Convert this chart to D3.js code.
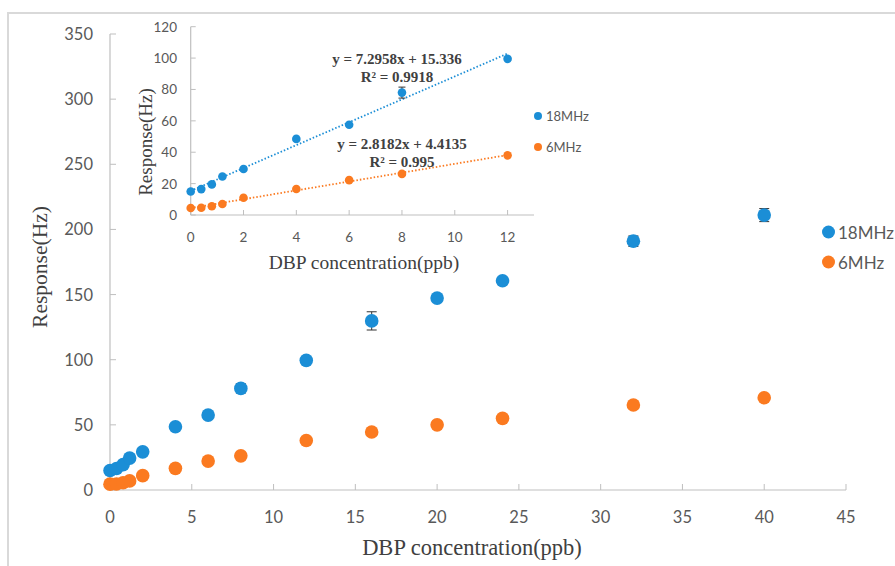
<!DOCTYPE html>
<html><head><meta charset="utf-8">
<script src="https://cdn.jsdelivr.net/npm/d3@7"></script>
<style>body{margin:0;background:#fff}svg{display:block}</style>
</head><body>
<svg id="c" width="895" height="566"></svg>
<script>
// ---- data ----
const conc = [0, 0.4, 0.8, 1.2, 2, 4, 6, 8, 12, 16, 20, 24, 32, 40];
const resp18 = [15, 16.5, 19.5, 24.5, 29.3, 48.5, 57.5, 78, 99.5, 129.8, 147.3, 160.6, 191, 211];
const err18 = [0.5, 0.5, 0.5, 0.5, 0.5, 0.5, 0.5, 3.5, 1, 7, 1, 2.5, 4, 5];
const resp6 = [4.5, 4.6, 5.6, 7, 11, 16.6, 22.2, 26.2, 38, 44.5, 50, 55, 65.2, 70.8];
const insetConc = [0, 0.4, 0.8, 1.2, 2, 4, 6, 8, 12];
const mainXTicks = [0, 5, 10, 15, 20, 25, 30, 35, 40, 45];
const mainYTicks = [0, 50, 100, 150, 200, 250, 300, 350];
const insetXTicks = [0, 2, 4, 6, 8, 10, 12];
const insetYTicks = [0, 20, 40, 60, 80, 100, 120];
const fit18 = {slope: 7.2958, intercept: 15.336, eq: "y = 7.2958x + 15.336", r2: "R² = 0.9918"};
const fit6 = {slope: 2.8182, intercept: 4.4135, eq: "y = 2.8182x + 4.4135", r2: "R² = 0.995"};
const seriesNames = ["18MHz", "6MHz"];
const colors = ["#1b8ed6", "#fb7a20"];

const svg = d3.select("#c");
const sans = "Lato, 'Open Sans', sans-serif";
const serif = "'Liberation Serif', 'DejaVu Serif', serif";
const axisCol = "#bfbfbf", textCol = "#595959";

// frame
svg.append("path").attr("d", "M8,566 V13 H895").attr("fill", "none")
  .attr("stroke", "#d9d9d9").attr("stroke-width", 2);

function drawPanel(opts) {
  const {x, y, xTicks, yTicks, fs, tickLen, xLabY, yLabX} = opts;
  const g = svg.append("g");
  const [x0, x1] = x.range(), [y0, y1] = y.range();
  g.append("line").attr("x1", x0).attr("x2", x1).attr("y1", y0).attr("y2", y0).attr("stroke", axisCol).attr("stroke-width", 1.2);
  g.append("line").attr("x1", x0).attr("x2", x0).attr("y1", y0).attr("y2", y1).attr("stroke", axisCol).attr("stroke-width", 1.2);
  xTicks.forEach(t => {
    g.append("line").attr("x1", x(t)).attr("x2", x(t)).attr("y1", y0).attr("y2", y0 - tickLen).attr("stroke", axisCol);
    g.append("text").attr("x", x(t)).attr("y", xLabY).attr("text-anchor", "middle").attr("dominant-baseline", "central")
      .attr("font-family", sans).attr("font-size", fs).attr("fill", textCol).text(t);
  });
  yTicks.forEach(t => {
    g.append("line").attr("x1", x0).attr("x2", x0 + tickLen).attr("y1", y(t)).attr("y2", y(t)).attr("stroke", axisCol);
    g.append("text").attr("x", yLabX).attr("y", y(t)).attr("text-anchor", "end").attr("dominant-baseline", "central")
      .attr("font-family", sans).attr("font-size", fs).attr("fill", textCol).text(t);
  });
  return g;
}

// ---- main chart ----
const x = d3.scaleLinear().domain([0, 45]).range([110, 846]);
const y = d3.scaleLinear().domain([0, 350]).range([490, 34]);
const gm = drawPanel({x, y, xTicks: mainXTicks, yTicks: mainYTicks, fs: 16.5, tickLen: 6, xLabY: 517, yLabX: 93});
svg.append("text").attr("x", 472).attr("y", 547).attr("text-anchor", "middle").attr("dominant-baseline", "central")
  .attr("font-family", serif).attr("font-size", 22.5).attr("fill", "#404040").text("DBP concentration(ppb)");
svg.append("text").attr("transform", "translate(40,267) rotate(-90)").attr("text-anchor", "middle").attr("dominant-baseline", "central")
  .attr("font-family", serif).attr("font-size", 21.5).attr("fill", "#404040").text("Response(Hz)");

function errorBars(g, xs, ys, es, x, y, capW) {
  xs.forEach((c, i) => {
    const e = es[i];
    if (!e) return;
    const cx = x(c), yt = y(ys[i] + e), yb = y(ys[i] - e);
    g.append("line").attr("x1", cx).attr("x2", cx).attr("y1", yt).attr("y2", yb).attr("stroke", "#333").attr("stroke-width", 1);
    g.append("line").attr("x1", cx - capW).attr("x2", cx + capW).attr("y1", yt).attr("y2", yt).attr("stroke", "#333").attr("stroke-width", 1);
    g.append("line").attr("x1", cx - capW).attr("x2", cx + capW).attr("y1", yb).attr("y2", yb).attr("stroke", "#333").attr("stroke-width", 1);
  });
}
errorBars(gm, conc, resp18, err18, x, y, 5);
gm.selectAll("circle.o").data(conc).join("circle").attr("cx", d => x(d)).attr("cy", (d, i) => y(resp6[i])).attr("r", 6.8).attr("fill", colors[1]);
gm.selectAll("circle.b").data(conc).join("circle").attr("cx", d => x(d)).attr("cy", (d, i) => y(resp18[i])).attr("r", 6.8).attr("fill", colors[0]);

// main legend
seriesNames.forEach((n, i) => {
  svg.append("circle").attr("cx", 828.5).attr("cy", 232 + i * 30).attr("r", 6.5).attr("fill", colors[i]);
  svg.append("text").attr("x", 838).attr("y", 232 + i * 30).attr("dominant-baseline", "central")
    .attr("font-family", sans).attr("font-size", 17).attr("fill", textCol).text(n);
});

// ---- inset ----
const xi = d3.scaleLinear().domain([0, 13]).range([190.7, 534]);
const yi = d3.scaleLinear().domain([0, 120]).range([215, 26.7]);
const gi = drawPanel({x: xi, y: yi, xTicks: insetXTicks, yTicks: insetYTicks, fs: 13.5, tickLen: 5, xLabY: 237, yLabX: 177});
svg.append("text").attr("x", 364).attr("y", 262).attr("text-anchor", "middle").attr("dominant-baseline", "central")
  .attr("font-family", serif).attr("font-size", 19.5).attr("fill", "#404040").text("DBP concentration(ppb)");
svg.append("text").attr("transform", "translate(145,142) rotate(-90)").attr("text-anchor", "middle").attr("dominant-baseline", "central")
  .attr("font-family", serif).attr("font-size", 19).attr("fill", "#404040").text("Response(Hz)");

[fit18, fit6].forEach((f, i) => {
  gi.append("line").attr("x1", xi(0)).attr("x2", xi(12)).attr("y1", yi(f.intercept)).attr("y2", yi(f.intercept + f.slope * 12))
    .attr("stroke", colors[i]).attr("stroke-width", 1.8).attr("stroke-dasharray", "1.5,2");
});
const n = insetConc.length;
errorBars(gi, insetConc, resp18.slice(0, n), err18.slice(0, n).map(e => e >= 1 ? e : 0), xi, yi, 3.5);
gi.selectAll("circle.o").data(insetConc).join("circle").attr("cx", d => xi(d)).attr("cy", (d, i) => yi(resp6[i])).attr("r", 4.3).attr("fill", colors[1]);
gi.selectAll("circle.b").data(insetConc).join("circle").attr("cx", d => xi(d)).attr("cy", (d, i) => yi(resp18[i])).attr("r", 4.3).attr("fill", colors[0]);

// equations
[[fit18, 397, 58.5], [fit6, 402, 144]].forEach(([f, cx, cy]) => {
  svg.append("text").attr("x", cx).attr("y", cy).attr("text-anchor", "middle").attr("dominant-baseline", "central")
    .attr("font-family", serif).attr("font-weight", "bold").attr("font-size", 15).attr("fill", "#404040").text(f.eq);
  svg.append("text").attr("x", cx).attr("y", cy + 18).attr("text-anchor", "middle").attr("dominant-baseline", "central")
    .attr("font-family", serif).attr("font-weight", "bold").attr("font-size", 15).attr("fill", "#404040").text(f.r2);
});

// inset legend
seriesNames.forEach((n, i) => {
  svg.append("circle").attr("cx", 538).attr("cy", 116 + i * 31).attr("r", 4).attr("fill", colors[i]);
  svg.append("text").attr("x", 546).attr("y", 116 + i * 31).attr("dominant-baseline", "central")
    .attr("font-family", sans).attr("font-size", 13).attr("fill", textCol).text(n);
});
</script>
</body></html>
